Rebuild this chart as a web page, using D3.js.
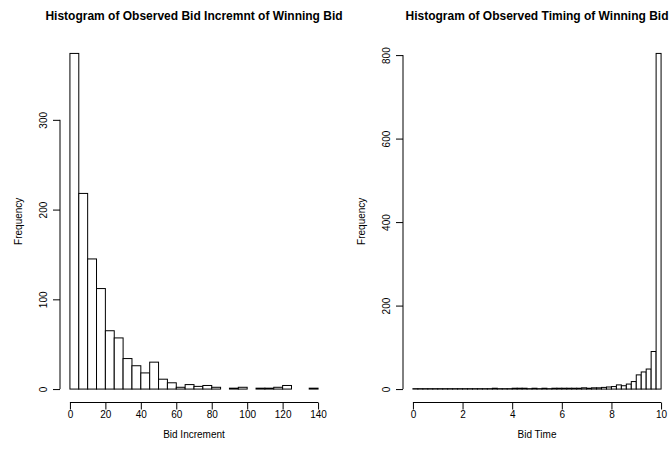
<!DOCTYPE html>
<html>
<head>
<meta charset="utf-8">
<script src="https://cdn.jsdelivr.net/npm/d3@7"></script>
<style>
  html, body { margin: 0; padding: 0; background: #fff; }
  svg { display: block; font-family: "Liberation Sans", Arial, Helvetica, sans-serif; }
</style>
</head>
<body>
<svg id="chart" width="670" height="453"></svg>
<script>
// Histogram 1: bid increment of the winning bid (bins of 5)
const incrementBinStarts = [0, 5, 10, 15, 20, 25, 30, 35, 40, 45, 50, 55, 60, 65,
  70, 75, 80, 85, 90, 95, 100, 105, 110, 115, 120, 125, 130, 135];
const incrementBinWidth = 5;
const incrementCounts = [374, 218, 145, 112, 65, 57, 34, 26, 18, 30, 11, 7, 2, 5,
  3, 4, 2, 0, 1, 2, 0, 1, 1, 2, 4, 0, 0, 1];
const incrementTicks = [0, 20, 40, 60, 80, 100, 120, 140];
const incrementFreqTicks = [0, 100, 200, 300];

// Histogram 2: timing of the winning bid (bins of 0.2)
const timeBinStarts = [0, 0.2, 0.4, 0.6, 0.8, 1, 1.2, 1.4, 1.6, 1.8, 2, 2.2, 2.4, 2.6,
  2.8, 3, 3.2, 3.4, 3.6, 3.8, 4, 4.2, 4.4, 4.6, 4.8, 5, 5.2, 5.4, 5.6, 5.8, 6, 6.2,
  6.4, 6.6, 6.8, 7, 7.2, 7.4, 7.6, 7.8, 8, 8.2, 8.4, 8.6, 8.8, 9, 9.2, 9.4, 9.6, 9.8];
const timeBinWidth = 0.2;
const timeCounts = [1, 1, 1, 1, 1, 1, 1, 1, 1, 1, 1, 1, 1, 1, 1, 1, 2, 1, 1, 1,
  2, 2, 2, 1, 2, 1, 2, 1, 2, 2, 2, 2, 2, 2, 3, 2, 3, 3, 4, 5,
  6, 10, 8, 12, 18, 34, 41, 48, 90, 804];
const timeTicks = [0, 2, 4, 6, 8, 10];
const timeFreqTicks = [0, 200, 400, 600, 800];

const svg = d3.select("#chart");

function drawHistogram(cfg) {
  const g = svg.append("g");
  const top = 40, bottom = 402.5;
  const xMin = cfg.binStarts[0];
  const xMax = cfg.binStarts[cfg.binStarts.length - 1] + cfg.binWidth;
  const span = xMax - xMin;
  const yMax = d3.max(cfg.counts);

  // 4% padding on both axes, as in R's default axis style
  const x = d3.scaleLinear()
    .domain([xMin - 0.04 * span, xMax + 0.04 * span])
    .range([cfg.left, cfg.right]);
  const y = d3.scaleLinear()
    .domain([-0.04 * yMax, 1.04 * yMax])
    .range([bottom, top]);

  // bars
  g.selectAll("rect.bar")
    .data(cfg.counts)
    .join("rect")
    .attr("class", "bar")
    .attr("x", (d, i) => x(cfg.binStarts[i]))
    .attr("width", (d, i) => x(cfg.binStarts[i] + cfg.binWidth) - x(cfg.binStarts[i]))
    .attr("y", d => y(d))
    .attr("height", d => y(0) - y(d))
    .attr("fill", "#fff")
    .attr("stroke", "#000")
    .attr("stroke-width", 1);

  // x axis: line spans first to last tick only
  const xAxis = g.append("g")
    .attr("transform", `translate(0,${bottom})`)
    .call(d3.axisBottom(x).tickValues(cfg.xTicks).tickSize(7).tickSizeOuter(0)
      .tickFormat(d3.format("d")));
  xAxis.select(".domain").remove();
  xAxis.append("line")
    .attr("x1", x(cfg.xTicks[0])).attr("x2", x(cfg.xTicks[cfg.xTicks.length - 1]))
    .attr("stroke", "#000");
  xAxis.selectAll(".tick text").attr("y", 8).attr("dy", "0.71em")
    .attr("font-size", 10).attr("fill", "#000").attr("font-family", null);

  // y axis with rotated labels
  const yAxis = g.append("g")
    .attr("transform", `translate(${cfg.left},0)`)
    .call(d3.axisLeft(y).tickValues(cfg.yTicks).tickSize(7).tickSizeOuter(0)
      .tickFormat(d3.format("d")));
  yAxis.select(".domain").remove();
  yAxis.append("line")
    .attr("y1", y(cfg.yTicks[0])).attr("y2", y(cfg.yTicks[cfg.yTicks.length - 1]))
    .attr("stroke", "#000");
  yAxis.selectAll(".tick text")
    .attr("x", null).attr("dy", null)
    .attr("text-anchor", "middle")
    .attr("transform", "translate(-17,0) rotate(-90)")
    .attr("dominant-baseline", "central")
    .attr("font-size", 10).attr("fill", "#000").attr("font-family", null);

  // title and axis labels
  const cx = (cfg.left + cfg.right) / 2;
  g.append("text")
    .attr("x", cx).attr("y", 20)
    .attr("text-anchor", "middle")
    .attr("font-weight", "bold").attr("font-size", 12)
    .text(cfg.title);
  g.append("text")
    .attr("x", cx).attr("y", 434)
    .attr("text-anchor", "middle").attr("dominant-baseline", "central")
    .attr("font-size", 10)
    .text(cfg.xLabel);
  g.append("text")
    .attr("transform", `translate(${cfg.left - 42},${(top + bottom) / 2}) rotate(-90)`)
    .attr("text-anchor", "middle").attr("dominant-baseline", "central")
    .attr("font-size", 10)
    .text("Frequency");
}

drawHistogram({
  left: 60, right: 328,
  binStarts: incrementBinStarts, binWidth: incrementBinWidth, counts: incrementCounts,
  xTicks: incrementTicks, yTicks: incrementFreqTicks,
  title: "Histogram of Observed Bid Incremnt of Winning Bid",
  xLabel: "Bid Increment"
});

drawHistogram({
  left: 403, right: 671,
  binStarts: timeBinStarts, binWidth: timeBinWidth, counts: timeCounts,
  xTicks: timeTicks, yTicks: timeFreqTicks,
  title: "Histogram of Observed Timing of Winning Bid",
  xLabel: "Bid Time"
});
</script>
</body>
</html>
